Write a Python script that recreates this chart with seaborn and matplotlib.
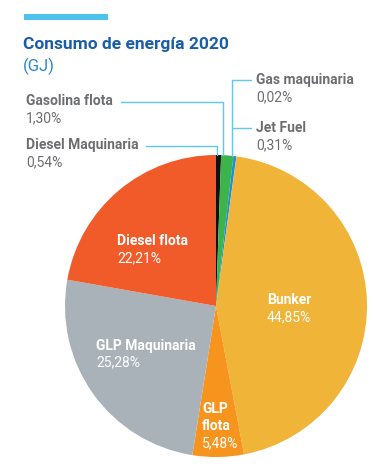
import numpy as np
import matplotlib.pyplot as plt
from matplotlib.lines import Line2D
from matplotlib.patches import Rectangle
import seaborn as sns

# data (clockwise from the top)
labels = ['Diesel Maquinaria', 'Gasolina flota', 'Jet Fuel', 'Gas maquinaria',
          'Bunker', 'GLP flota', 'GLP Maquinaria', 'Diesel flota']
shares = [0.54, 1.30, 0.31, 0.02, 44.85, 5.48, 25.28, 22.21]
pct_text = ['0,54%', '1,30%', '0,31%', '0,02%', '44,85%', '5,48%', '25,28%', '22,21%']
colors = ['#111111', '#3bb54a', '#1f8fd6', '#1f8fd6',
          '#f0b438', '#f7941d', '#a8b2b8', '#f15a29']

sns.set_style('white')
plt.rcParams['font.family'] = ['Roboto', 'DejaVu Sans']

W, H = 375, 474
fig = plt.figure(figsize=(W / 100, H / 100), dpi=100)

def fx(x):
    return x / W

def fy(y):
    return 1 - y / H

# pie centre and radius in pixels
cx, cy, R = 216, 306, 151
ax = fig.add_axes([fx(cx - R), fy(cy + R), 2 * R / W, 2 * R / H])
ax.pie(shares, colors=colors, startangle=90, counterclock=False,
       radius=1, wedgeprops=dict(linewidth=0))
ax.set_xlim(-1, 1)
ax.set_ylim(-1, 1)
ax.set_aspect('auto')
ax.axis('off')

# header
fig.add_artist(Rectangle((fx(24), fy(20)), fx(108) - fx(24), fy(14) - fy(20),
                         transform=fig.transFigure, color='#4fc3ee', lw=0))
fig.text(fx(23), fy(44), 'Consumo de energía 2020', color='#1a5da8',
         fontsize=12.5, fontweight='bold', va='center', ha='left')
fig.text(fx(23), fy(66), '(GJ)', color='#2b86c9', fontsize=12,
         va='center', ha='left')

# labels inside slices
fs = 10
inside = {
    'Diesel flota': (117, [241, 258]),
    'Bunker': (267, [300, 317]),
    'GLP Maquinaria': (96, [346, 362]),
}
for name, (x, ys) in inside.items():
    i = labels.index(name)
    fig.text(fx(x), fy(ys[0]), name, color='white', fontsize=fs,
             fontweight='bold', va='center')
    fig.text(fx(x), fy(ys[1]), pct_text[i], color='white', fontsize=fs,
             va='center')
i = labels.index('GLP flota')
fig.text(fx(202), fy(409), 'GLP', color='white', fontsize=fs, fontweight='bold', va='center')
fig.text(fx(202), fy(426), 'flota', color='white', fontsize=fs, fontweight='bold', va='center')
fig.text(fx(202), fy(443), pct_text[i], color='white', fontsize=fs, va='center')

# outside labels with leader lines
line_col = '#5bc9f1'
grey = '#6d6e71'

def edge_y(x):
    return cy - np.sqrt(R ** 2 - (x - cx) ** 2)

outside = [
    # name, text x, text y, line start x, line y, vertical x
    ('Gasolina flota', 26, 101, 121, 102, 223),
    ('Diesel Maquinaria', 26, 145, 146, 146, 217),
]
for name, tx, ty, lx0, ly, vx in outside:
    i = labels.index(name)
    fig.text(fx(tx), fy(ty), name, color=grey, fontsize=fs, fontweight='bold', va='center')
    fig.text(fx(tx), fy(ty + 17), pct_text[i], color=grey, fontsize=fs, va='center')
    fig.add_artist(Line2D([fx(lx0), fx(vx), fx(vx)], [fy(ly), fy(ly), fy(edge_y(vx))],
                          transform=fig.transFigure, color=line_col, lw=1))

right = [('Gas maquinaria', 256, 80), ('Jet Fuel', 256, 128)]
vx = 232
for name, tx, ty in right:
    i = labels.index(name)
    fig.text(fx(tx), fy(ty), name, color=grey, fontsize=fs, fontweight='bold', va='center')
    fig.text(fx(tx), fy(ty + 17), pct_text[i], color=grey, fontsize=fs, va='center')
    fig.add_artist(Line2D([fx(vx), fx(251)], [fy(ty), fy(ty)],
                          transform=fig.transFigure, color=line_col, lw=1))
fig.add_artist(Line2D([fx(vx), fx(vx)], [fy(80), fy(edge_y(vx))],
                      transform=fig.transFigure, color=line_col, lw=1))

fig.savefig('out.png', dpi=100)
